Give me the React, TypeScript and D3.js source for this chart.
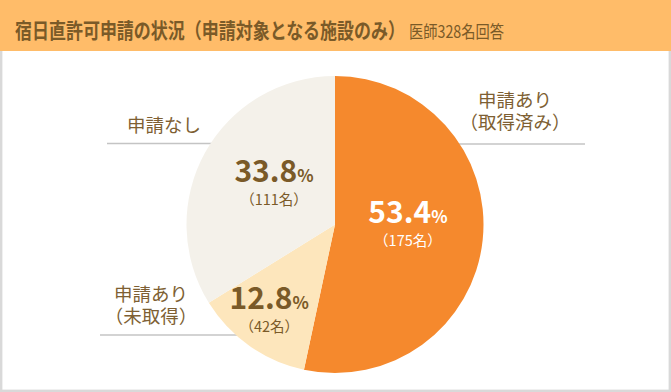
import React from 'react';
import * as d3 from 'd3';

const categories = ['申請あり（取得済み）', '申請あり（未取得）', '申請なし'];
const labelLines = [['申請あり', '（取得済み）'], ['申請あり', '（未取得）'], ['申請なし']];
const counts = [175, 42, 111];
const percents = [53.4, 12.8, 33.8];
const colors = ['#F5892D', '#FDE6BC', '#F4F1EA'];
const pctColors = ['#ffffff', '#7A5A28', '#7A5A28'];

const title = '宿日直許可申請の状況（申請対象となる施設のみ）';
const subtitle = '医師328名回答';

const W = 671;
const H = 392;
const cx = 335;
const cy = 224.5;
const R = 148.5;
const brown = '#7E5F33';

// where the inner labels sit, as a share of the radius
const labelRadius = [0.494, 0.77, 0.47];

// outer labels: text centre x, first baseline y, leader line
const outer = [
  { x: 515, y: 106.5, lineY: 144, x1: 450, x2: 585 },
  { x: 151, y: 300.5, lineY: 335, x1: 100, x2: 245 },
  { x: 164, y: 132, lineY: 143.5, x1: 107, x2: 225 },
];

export default function App() {
  const pie = d3.pie<number>().sort(null).startAngle(0).endAngle(2 * Math.PI);
  const arcs = pie(counts);
  const arc = d3.arc<d3.PieArcDatum<number>>().innerRadius(0).outerRadius(R);

  return (
    <svg
      width={W}
      height={H}
      style={{ position: 'absolute', left: 0, top: 0, fontFamily: '"Noto Sans CJK JP", sans-serif' }}
    >
      <rect x={0} y={0} width={W} height={H} fill="#fff" />
      <rect x={1.2} y={1.2} width={W - 2.4} height={H - 2.4} fill="none" stroke="#d9d9d9" strokeWidth={2.4} />
      <rect x={0} y={0} width={W} height={51} fill="#FFBC69" />
      <text x={15} y={37.5} fontSize={21} fontWeight="bold" fill="#7A5A28" textLength={390} lengthAdjust="spacingAndGlyphs">
        {title}
      </text>
      <text x={409} y={37.5} fontSize={17.5} fill="#7A5A28" textLength={95} lengthAdjust="spacingAndGlyphs">
        {subtitle}
      </text>

      {outer.map((o, i) => (
        <g key={categories[i]}>
          <line x1={o.x1} x2={o.x2} y1={o.lineY} y2={o.lineY} stroke="#c4c4c4" strokeWidth={1.5} />
          {labelLines[i].map((t, j) => (
            <text key={j} x={o.x} y={o.y + j * 22} textAnchor="middle" fontSize={18.5} fill={brown}>
              {t}
            </text>
          ))}
        </g>
      ))}

      <g transform={`translate(${cx},${cy})`}>
        {arcs.map((a, i) => (
          <path key={categories[i]} d={arc(a) || ''} fill={colors[i]} />
        ))}
        {arcs.map((a, i) => {
          const r = R * labelRadius[i];
          const [lx, ly] = d3.arc<d3.PieArcDatum<number>>().innerRadius(r).outerRadius(r).centroid(a);
          return (
            <g key={'l' + i} transform={`translate(${lx},${ly})`} fill={pctColors[i]}>
              <text y={-9} textAnchor="middle" fontWeight="bold">
                <tspan fontSize={30}>{percents[i].toFixed(1)}</tspan>
                <tspan fontSize={17}>%</tspan>
              </text>
              <text y={14} textAnchor="middle" fontSize={14.5}>
                （{counts[i]}名）
              </text>
            </g>
          );
        })}
      </g>
    </svg>
  );
}
